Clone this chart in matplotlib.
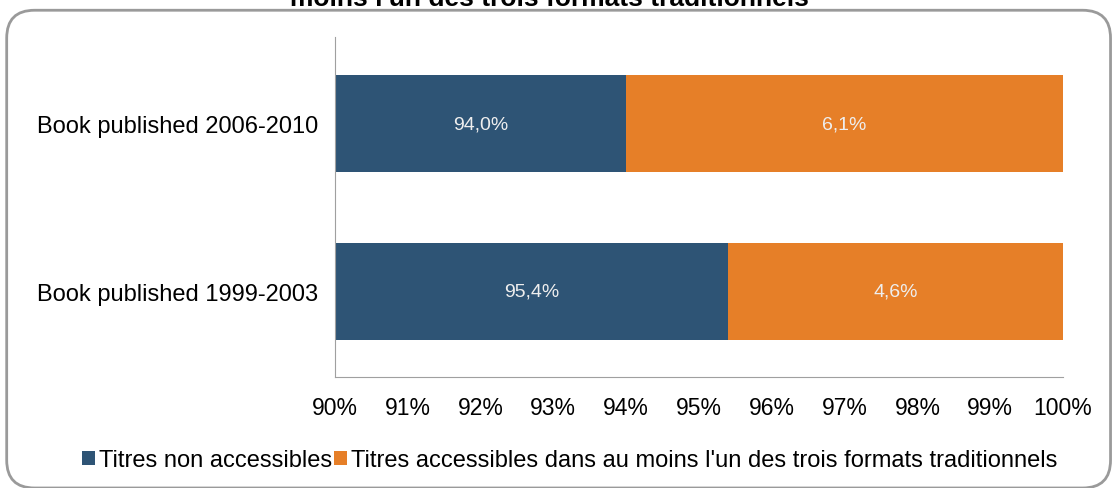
import matplotlib.pyplot as plt
from matplotlib.patches import FancyBboxPatch

plt.rcParams['font.family'] = ['Liberation Sans', 'DejaVu Sans']

categories = ['Book published 1999-2003', 'Book published 2006-2010']
non_access = [95.4, 94.0]
access = [4.6, 6.1]
xticks = [90, 91, 92, 93, 94, 95, 96, 97, 98, 99, 100]

blue = '#2E5475'
orange = '#E67F28'

fig = plt.figure(figsize=(11.15, 4.89), dpi=100)
ax = fig.add_axes([0.3004, 0.227, 0.6530, 0.695])

y = range(len(categories))
ax.barh(y, non_access, height=0.577, color=blue, left=0, label='Titres non accessibles')
ax.barh(y, access, height=0.577, color=orange, left=non_access,
        label="Titres accessibles dans au moins l'un des trois formats traditionnels")

for i in y:
    ax.text((90 + non_access[i]) / 2, i, f'{non_access[i]:.1f}%'.replace('.', ','),
            ha='center', va='center', color='#EEEEEE', fontsize=14)
    ax.text((non_access[i] + 100) / 2, i, f'{access[i]:.1f}%'.replace('.', ','),
            ha='center', va='center', color='#EEEEEE', fontsize=14)

ax.set_xlim(90, 100)
ax.set_ylim(-0.51, 1.515)
ax.set_xticks(xticks)
ax.set_xticklabels([f'{t}%' for t in xticks], fontsize=16.5)
ax.set_yticks(list(y))
ax.set_yticklabels(categories, fontsize=17)
ax.tick_params(length=0)
ax.tick_params(axis='x', pad=14)
ax.tick_params(axis='y', pad=12)
for s in ['top', 'right']:
    ax.spines[s].set_visible(False)
for s in ['left', 'bottom']:
    ax.spines[s].set_color('#A0A0A0')

fig.legend(loc='center', bbox_to_anchor=(0.511, 0.057), ncol=2, frameon=False,
           fontsize=17, handlelength=0.55, handleheight=0.55, handletextpad=0.15,
           columnspacing=0.1, borderaxespad=0)

fig.text(0.493, 1 - 6 / 489, "moins l'un des trois formats traditionnels",
         ha='center', va='baseline', fontsize=19, fontweight='bold')

border = FancyBboxPatch((0.006, 0.0), 0.990, 0.977, boxstyle='round,pad=0,rounding_size=0.025',
                        transform=fig.transFigure, fill=False, edgecolor='#9A9A9A', lw=2,
                        mutation_aspect=2.28)
fig.patches.append(border)

fig.savefig('out.png', dpi=100)
